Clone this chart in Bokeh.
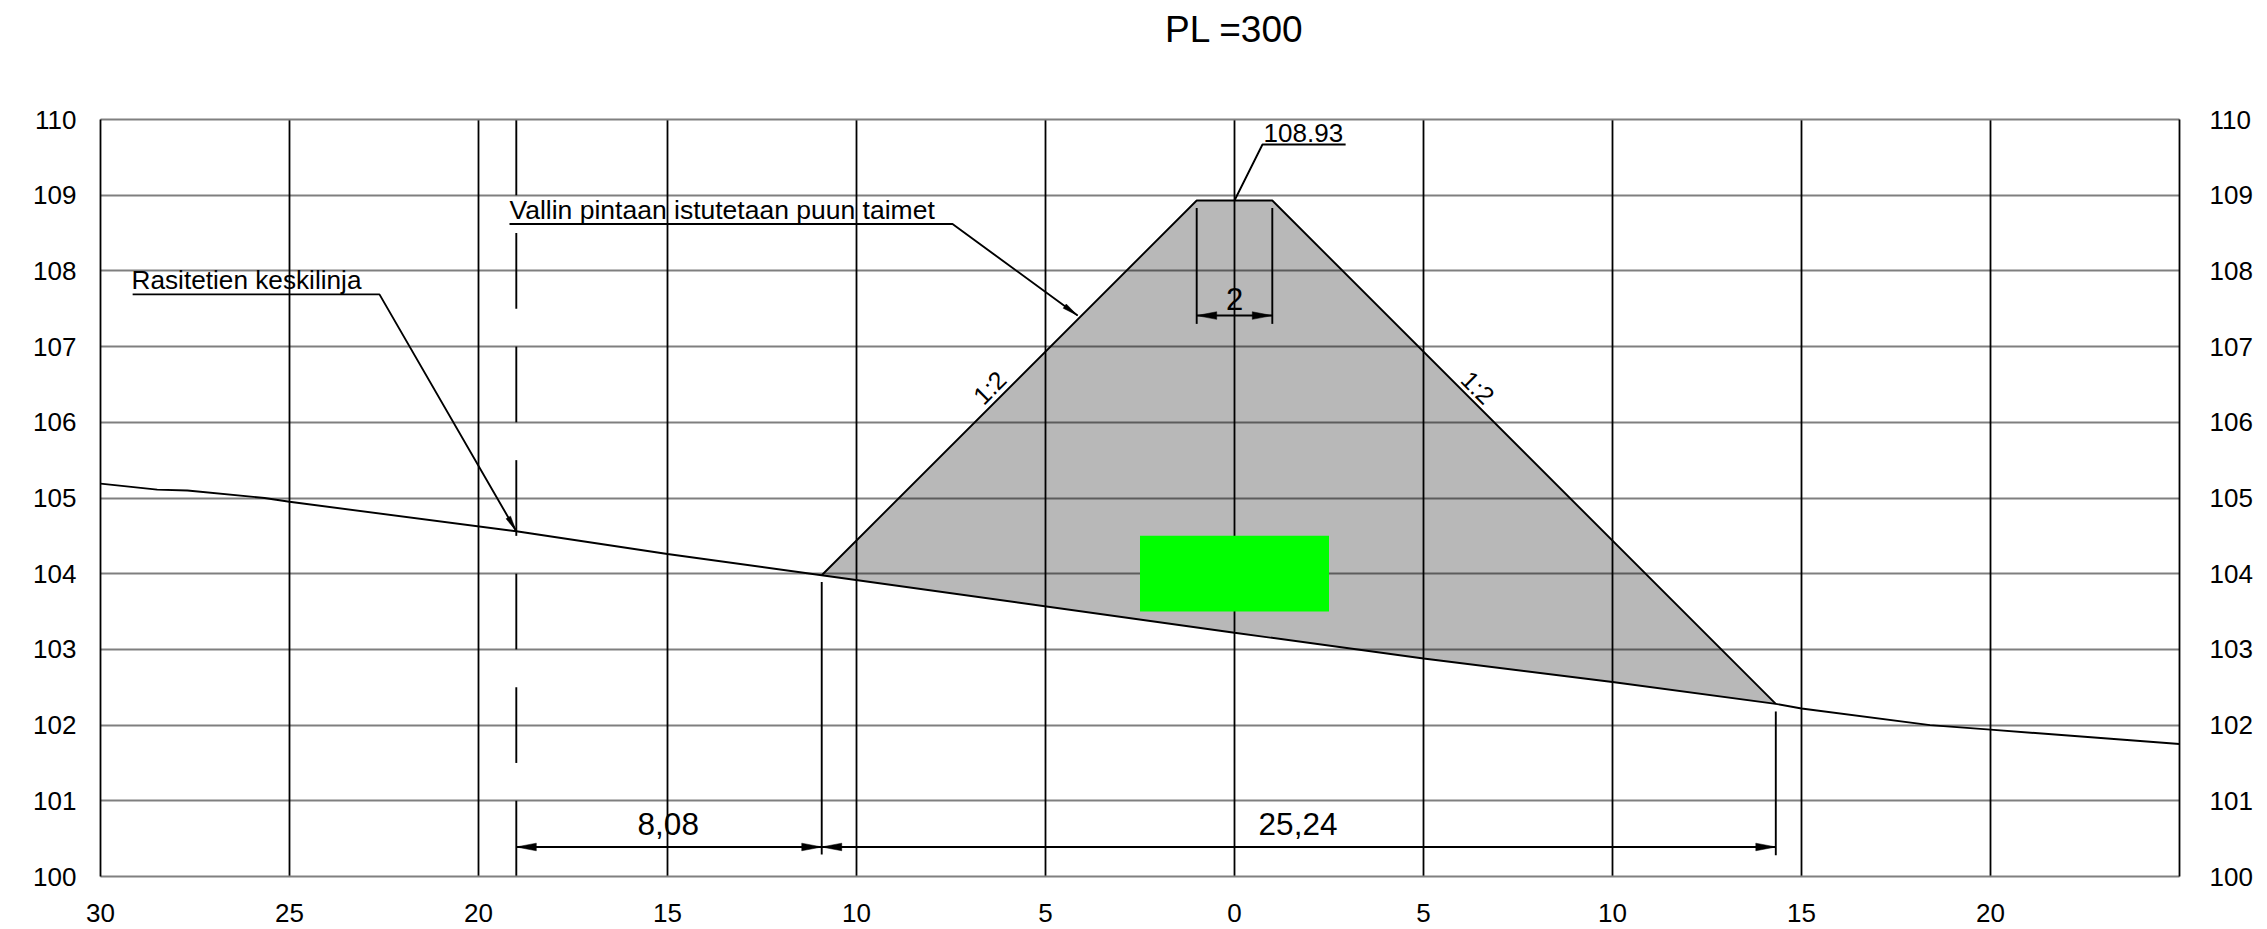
from bokeh.plotting import figure
from bokeh.embed import file_html
from bokeh.resources import INLINE
from bokeh.models import FixedTicker, LinearAxis, Grid
from bokeh.core.properties import value

FONT = "Liberation Sans"
TITLE = "PL =300"

# Axes
y_ticks = [100, 101, 102, 103, 104, 105, 106, 107, 108, 109, 110]
x_ticks = [-30, -25, -20, -15, -10, -5, 0, 5, 10, 15, 20]
x_grid_ticks = [-30, -25, -20, -15, -10, -5, 0, 5, 10, 15, 20, 25]
x_tick_labels = ["30", "25", "20", "15", "10", "5", "0", "5", "10", "15", "20"]

# Ground profile
ground_x = [-30, -28.5, -27.7, -25.66, -25, -19, -15, -10.92, 0, 5, 10, 14.32, 15, 18.4, 20, 25]
ground_y = [105.19, 105.11, 105.10, 105.0, 104.95, 104.56, 104.26, 103.98, 103.22, 102.88, 102.57, 102.28, 102.22, 102.0, 101.94, 101.75]

# Embankment
bank_x = [-10.92, -1, 1, 14.32]
bank_y = [103.98, 108.93, 108.93, 102.28]

# Culvert block
block_x = [-2.5, 2.5]
block_y = [103.5, 104.5]

# Centre line of the road, broken
centre_x = -19
centre_from = [110, 108.5, 107, 105.5, 104, 102.5, 101]
centre_to = [109, 107.5, 106, 104.5, 103, 101.5, 100]

# Dimension lines
dim_y_low = 100.39
dim_y_top = 107.41
ext_x = [-10.92, 14.32, -1, 1]
ext_from = [103.89, 102.18, 108.83, 108.83]
ext_to = [100.29, 100.28, 107.30, 107.30]

# Leaders
lead1_x = [-29.15, -22.62, -19.0]
lead1_y = [107.69, 107.69, 104.56]
lead2_x = [-19.18, -7.46, -4.15]
lead2_y = [108.62, 108.62, 107.41]
lead3_x = [0.0, 0.74, 2.94]
lead3_y = [108.93, 109.67, 109.67]

PX_X = 1 / 37.8
PX_Y = 1 / 75.7

p = figure(frame_width=2079, frame_height=757, x_range=(-30, 25), y_range=(100, 110),
           min_border_left=100, min_border_right=80, min_border_top=119, min_border_bottom=52,
           output_backend="svg", toolbar_location=None, x_axis_type=None, y_axis_type=None,
           background_fill_color="white", border_fill_color="white")
p.outline_line_color = None

# Axes
bottom = LinearAxis(ticker=FixedTicker(ticks=x_ticks))
bottom.major_label_overrides = {t: l for t, l in zip(x_ticks, x_tick_labels)}
left = LinearAxis(ticker=FixedTicker(ticks=y_ticks))
right = LinearAxis(ticker=FixedTicker(ticks=y_ticks))
top = LinearAxis(ticker=FixedTicker(ticks=[0]))
top.major_label_overrides = {0: TITLE}
for ax in (bottom, left, right, top):
    ax.major_tick_line_color = None
    ax.minor_tick_line_color = None
    ax.major_label_text_font = FONT
    ax.major_label_text_font_size = "26px"
    ax.major_label_text_color = "black"
top.major_label_text_font_size = "37px"
top.major_label_standoff = 64
bottom.major_label_standoff = 21
left.major_label_standoff = 18
right.major_label_standoff = 24
GRID_GREY = "#808080"
for ax, c, w in ((left, "black", 1.8), (right, "black", 1.8), (bottom, GRID_GREY, 2), (top, GRID_GREY, 2)):
    ax.axis_line_color = c
    ax.axis_line_width = w
p.add_layout(bottom, "below")
p.add_layout(left, "left")
p.add_layout(right, "right")
p.add_layout(top, "above")

# Grids
p.add_layout(Grid(dimension=1, ticker=FixedTicker(ticks=y_ticks), grid_line_color="#000000",
                  grid_line_alpha=0.5, grid_line_width=2, level="underlay"))
p.add_layout(Grid(dimension=0, ticker=FixedTicker(ticks=x_grid_ticks), grid_line_color="black",
                  grid_line_width=1.8, level="underlay"))

# Fill below the grids
p.patch(bank_x + ground_x[8:11][::-1], bank_y + ground_y[8:11][::-1], fill_color="#b8b8b8",
        line_color=None, level="image")

p.quad(left=block_x[0], right=block_x[1], bottom=block_y[0], top=block_y[1],
       fill_color="#00ff00", line_color=None)

LW = 1.9
p.line(ground_x, ground_y, line_color="black", line_width=LW)
p.line(bank_x, bank_y, line_color="black", line_width=LW)
p.segment(x0=[centre_x] * len(centre_from), y0=centre_from, x1=[centre_x] * len(centre_to), y1=centre_to,
          line_color="black", line_width=LW)
p.segment(x0=ext_x, y0=ext_from, x1=ext_x, y1=ext_to, line_color="black", line_width=LW)
p.line([-19, -10.92], [dim_y_low, dim_y_low], line_color="black", line_width=LW)
p.line([-10.92, 14.32], [dim_y_low, dim_y_low], line_color="black", line_width=LW)
p.line([-1, 1], [dim_y_top, dim_y_top], line_color="black", line_width=LW)
p.line(lead1_x, lead1_y, line_color="black", line_width=LW)
p.line(lead2_x, lead2_y, line_color="black", line_width=LW)
p.line(lead3_x, lead3_y, line_color="black", line_width=LW)


def head(x, y, fx, fy, length=20, half=3.8):
    """Arrow head with tip at data (x, y), the tail lying toward data (fx, fy)."""
    dx, dy = (fx - x) / PX_X, (fy - y) / PX_Y
    n = (dx * dx + dy * dy) ** 0.5
    ux, uy = dx / n, dy / n
    bx, by = ux * length, uy * length
    xs = [x, x + (bx - uy * half) * PX_X, x + (bx + uy * half) * PX_X]
    ys = [y, y + (by + ux * half) * PX_Y, y + (by - ux * half) * PX_Y]
    return xs, ys


heads = [
    head(-19, dim_y_low, -10.92, dim_y_low),
    head(-10.92, dim_y_low, -19, dim_y_low),
    head(-10.92, dim_y_low, 14.32, dim_y_low),
    head(14.32, dim_y_low, -10.92, dim_y_low),
    head(-1, dim_y_top, 1, dim_y_top),
    head(1, dim_y_top, -1, dim_y_top),
    head(lead1_x[2], lead1_y[2], lead1_x[1], lead1_y[1], 16, 2.6),
    head(lead2_x[2], lead2_y[2], lead2_x[1], lead2_y[1], 16, 2.6),
]
p.patches([h[0] for h in heads], [h[1] for h in heads], fill_color="black", line_color="black", line_width=0.5)


def label(x, y, text, size, align="left", angle=0.0):
    p.text([x], [y], text=[text], text_font=value(FONT), text_font_size=value(size),
           text_align=align, text_baseline="middle", text_color="black", angle=angle)


label(-29.18, 107.88, "Rasitetien keskilinja", "26.2px")
label(-19.18, 108.80, "Vallin pintaan istutetaan puun taimet", "26.5px")
label(0.77, 109.82, "108.93", "26px")
label(0, 107.63, "2", "31px", align="center")
label(-14.98, 100.69, "8,08", "31.5px", align="center")
label(1.68, 100.69, "25,24", "31.5px", align="center")
label(-6.48, 106.46, "1:2", "25px", align="center", angle=0.785)
label(6.44, 106.46, "1:2", "25px", align="center", angle=-0.785)

open("out.html", "w").write(file_html(p, INLINE))
